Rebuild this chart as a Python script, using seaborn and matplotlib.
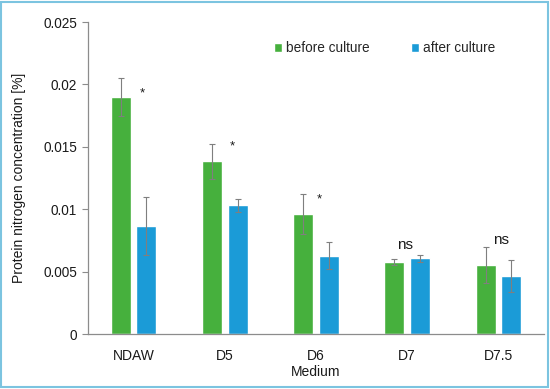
import matplotlib
matplotlib.use("Agg")
import matplotlib.pyplot as plt
import seaborn as sns
import pandas as pd
import numpy as np
from matplotlib.patches import Rectangle

# ---- data ----
media = ["NDAW", "D5", "D6", "D7", "D7.5"]
before_vals = [0.0190, 0.01385, 0.00960, 0.00575, 0.00555]
after_vals = [0.00866, 0.01030, 0.00628, 0.00606, 0.00465]
before_err = [0.0015, 0.0014, 0.0016, 0.00025, 0.00145]
after_err = [0.0023, 0.0005, 0.0011, 0.0003, 0.00125]
series = ["before culture", "after culture"]
sig_labels = ["*", "*", "*", "ns", "ns"]
sig_x = [0.09, 1.08, 2.04, 2.98, 4.03]
sig_y = [0.0193, 0.0150, 0.0108, 0.0071, 0.0075]
yticks = [0, 0.005, 0.01, 0.015, 0.02, 0.025]
ytick_labels = ["0", "0.005", "0.01", "0.015", "0.02", "0.025"]

green = "#46b03d"
blue = "#1b9bd7"

df = pd.DataFrame({
    "Medium": media * 2,
    "series": [series[0]] * len(media) + [series[1]] * len(media),
    "value": before_vals + after_vals,
    "err": before_err + after_err,
})

sns.set_theme(style="white")
plt.rcParams["font.family"] = ["Liberation Sans", "DejaVu Sans"]

fig = plt.figure(figsize=(5.5, 3.89), dpi=100)
ax = fig.add_axes([88 / 550, 1 - 334 / 389, (544 - 88) / 550, (334 - 22) / 389])

sns.barplot(data=df, x="Medium", y="value", hue="series", order=media,
            hue_order=series, palette=[green, blue], width=0.56, gap=0.22,
            errorbar=None, saturation=1, ax=ax, legend=True)

# error bars from the bar patches
bars = [p for p in ax.patches if p.get_height() > 0]
errs = before_err + after_err
for p, e in zip(bars, errs):
    cx = p.get_x() + p.get_width() / 2
    ax.errorbar(cx, p.get_height(), yerr=e, fmt="none", ecolor="#7f7f7f",
                elinewidth=0.8, capsize=2.0, capthick=0.8, zorder=5)

for lab, x, y in zip(sig_labels, sig_x, sig_y):
    ax.text(x, y, lab, ha="center", va="center",
            fontsize=11 if lab == "ns" else 9.5, color="#1a1a1a")

ax.set_xlim(-0.5, 4.5)
ax.set_ylim(0, 0.025)
ax.set_yticks(yticks)
ax.set_yticklabels(ytick_labels)
ax.tick_params(axis="y", which="both", left=True, length=4, width=0.8,
               color="#8c8c8c", labelsize=9.8, pad=4, labelcolor="#1a1a1a")
ax.tick_params(axis="x", bottom=False, labelsize=10, pad=5, labelcolor="#1a1a1a")
ax.set_xlabel("Medium", fontsize=10, color="#1a1a1a", labelpad=1)
ax.set_ylabel("Protein nitrogen concentration [%]", fontsize=10,
              color="#1a1a1a", labelpad=12)
for s in ["top", "right"]:
    ax.spines[s].set_visible(False)
for s in ["left", "bottom"]:
    ax.spines[s].set_color("#8c8c8c")
    ax.spines[s].set_linewidth(0.9)

leg = ax.legend(loc="upper left", bbox_to_anchor=(0.396, 0.955), ncol=2,
                frameon=False, fontsize=9.8, handlelength=0.6,
                handleheight=0.6, handletextpad=0.3, columnspacing=3.0,
                borderaxespad=0)

# figure border
fig.patches.append(Rectangle((0.002, 0.004), 0.994, 0.99, transform=fig.transFigure,
                             fill=False, edgecolor="#7cc4e0", linewidth=1.5))

fig.savefig("out.png", dpi=100)
